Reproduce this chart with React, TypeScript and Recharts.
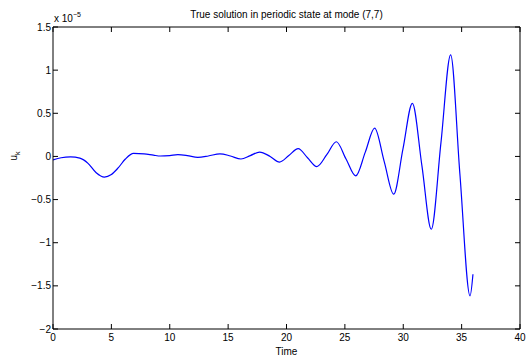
import React from "react";
import { LineChart, Line, XAxis, YAxis } from "recharts";

const times = [0, 0.7, 1.5, 2.3, 3.0, 3.7, 4.4, 5.0, 5.6, 6.2, 6.9, 7.8, 8.6, 9.2, 10.0, 10.7, 11.5, 12.4, 13.3, 14.3, 15.2, 16.1, 16.9, 17.7, 18.6, 19.4, 20.2, 21.0, 21.8, 22.6, 23.45, 24.27, 25.1, 25.93, 26.75, 27.55, 28.37, 29.18, 29.98, 30.78, 31.6, 32.4, 33.23, 34.06, 34.85, 35.72, 35.97];
const uk = [-0.04, -0.015, -0.005, -0.02, -0.08, -0.19, -0.24, -0.21, -0.13, -0.03, 0.035, 0.03, 0.015, 0.005, 0.01, 0.02, 0.01, -0.01, 0.005, 0.03, 0.005, -0.03, 0.01, 0.05, 0.0, -0.065, 0.01, 0.09, -0.015, -0.118, 0.02, 0.17, -0.03, -0.226, 0.05, 0.327, -0.06, -0.438, 0.09, 0.616, -0.11, -0.844, 0.16, 1.176, -0.2, -1.616, -1.365];
const xTicks = [0, 5, 10, 15, 20, 25, 30, 35, 40];
const yTicks = [-2, -1.5, -1, -0.5, 0, 0.5, 1, 1.5];
const title = "True solution in periodic state at mode (7,7)";
const xLabel = "Time";

const data = times.map((t, i) => ({ t, u: uk[i] }));
const fmt = (v: number) => (v < 0 ? "\u2212" + String(-v) : String(v));
const FONT = "'Liberation Sans', Arial, sans-serif";
const tickStyle = { fontSize: 10, fill: "#000", fontFamily: FONT };

export default function App() {
  return (
    <div style={{ position: "absolute", left: 0, top: 0, width: 527, height: 362, background: "#fff" }}>
      <LineChart width={527} height={362} data={data} margin={{ top: 26, right: 6, left: 0, bottom: 0 }}>
        <XAxis
          xAxisId="b"
          dataKey="t"
          type="number"
          domain={[0, 40]}
          ticks={xTicks}
          orientation="bottom"
          height={33}
          tickSize={-5}
          tickMargin={10}
          tick={tickStyle}
          axisLine={{ stroke: "#000", strokeWidth: 1 }}
          tickLine={{ stroke: "#000" }}
          allowDataOverflow
        />
        <XAxis
          xAxisId="t"
          dataKey="t"
          type="number"
          domain={[0, 40]}
          ticks={xTicks}
          orientation="top"
          height={1}
          tickSize={-5}
          tickFormatter={() => ""}
          axisLine={{ stroke: "#000", strokeWidth: 1 }}
          tickLine={{ stroke: "#000" }}
          allowDataOverflow
        />
        <YAxis
          yAxisId="l"
          type="number"
          domain={[-2, 1.5]}
          ticks={yTicks}
          orientation="left"
          width={53}
          tickSize={-5}
          tickMargin={7}
          tick={tickStyle}
          tickFormatter={fmt}
          axisLine={{ stroke: "#000", strokeWidth: 1 }}
          tickLine={{ stroke: "#000" }}
          allowDataOverflow
          label={{
            content: () => (
              <text x={0} y={0} transform="translate(17,156) rotate(-90)" textAnchor="middle" fontSize={10} fontFamily={FONT} fill="#000">
                <tspan>u</tspan>
                <tspan fontSize={7} dy={3}>k</tspan>
              </text>
            ),
          }}
        />
        <YAxis
          yAxisId="r"
          type="number"
          domain={[-2, 1.5]}
          ticks={yTicks}
          orientation="right"
          width={1}
          tickSize={-5}
          tickFormatter={() => ""}
          axisLine={{ stroke: "#000", strokeWidth: 1 }}
          tickLine={{ stroke: "#000" }}
          allowDataOverflow
        />
        <Line
          xAxisId="t"
          yAxisId="r"
          dataKey="u"
          type="monotone"
          stroke="none"
          dot={false}
          activeDot={false}
          isAnimationActive={false}
        />
        <Line
          xAxisId="b"
          yAxisId="l"
          dataKey="u"
          type="monotone"
          stroke="#0000ff"
          strokeWidth={1.2}
          dot={false}
          isAnimationActive={false}
        />
        <text x={286.5} y={18} textAnchor="middle" fontSize={10} fontFamily={FONT} fill="#000">{title}</text>
        <text x={286.5} y={355} textAnchor="middle" fontSize={10} fontFamily={FONT} fill="#000">{xLabel}</text>
        <text x={54} y={22} fontSize={10} fontFamily={FONT} fill="#000">
          <tspan>x 10</tspan>
          <tspan fontSize={7} dy={-5}>{"\u22125"}</tspan>
        </text>
      </LineChart>
    </div>
  );
}
